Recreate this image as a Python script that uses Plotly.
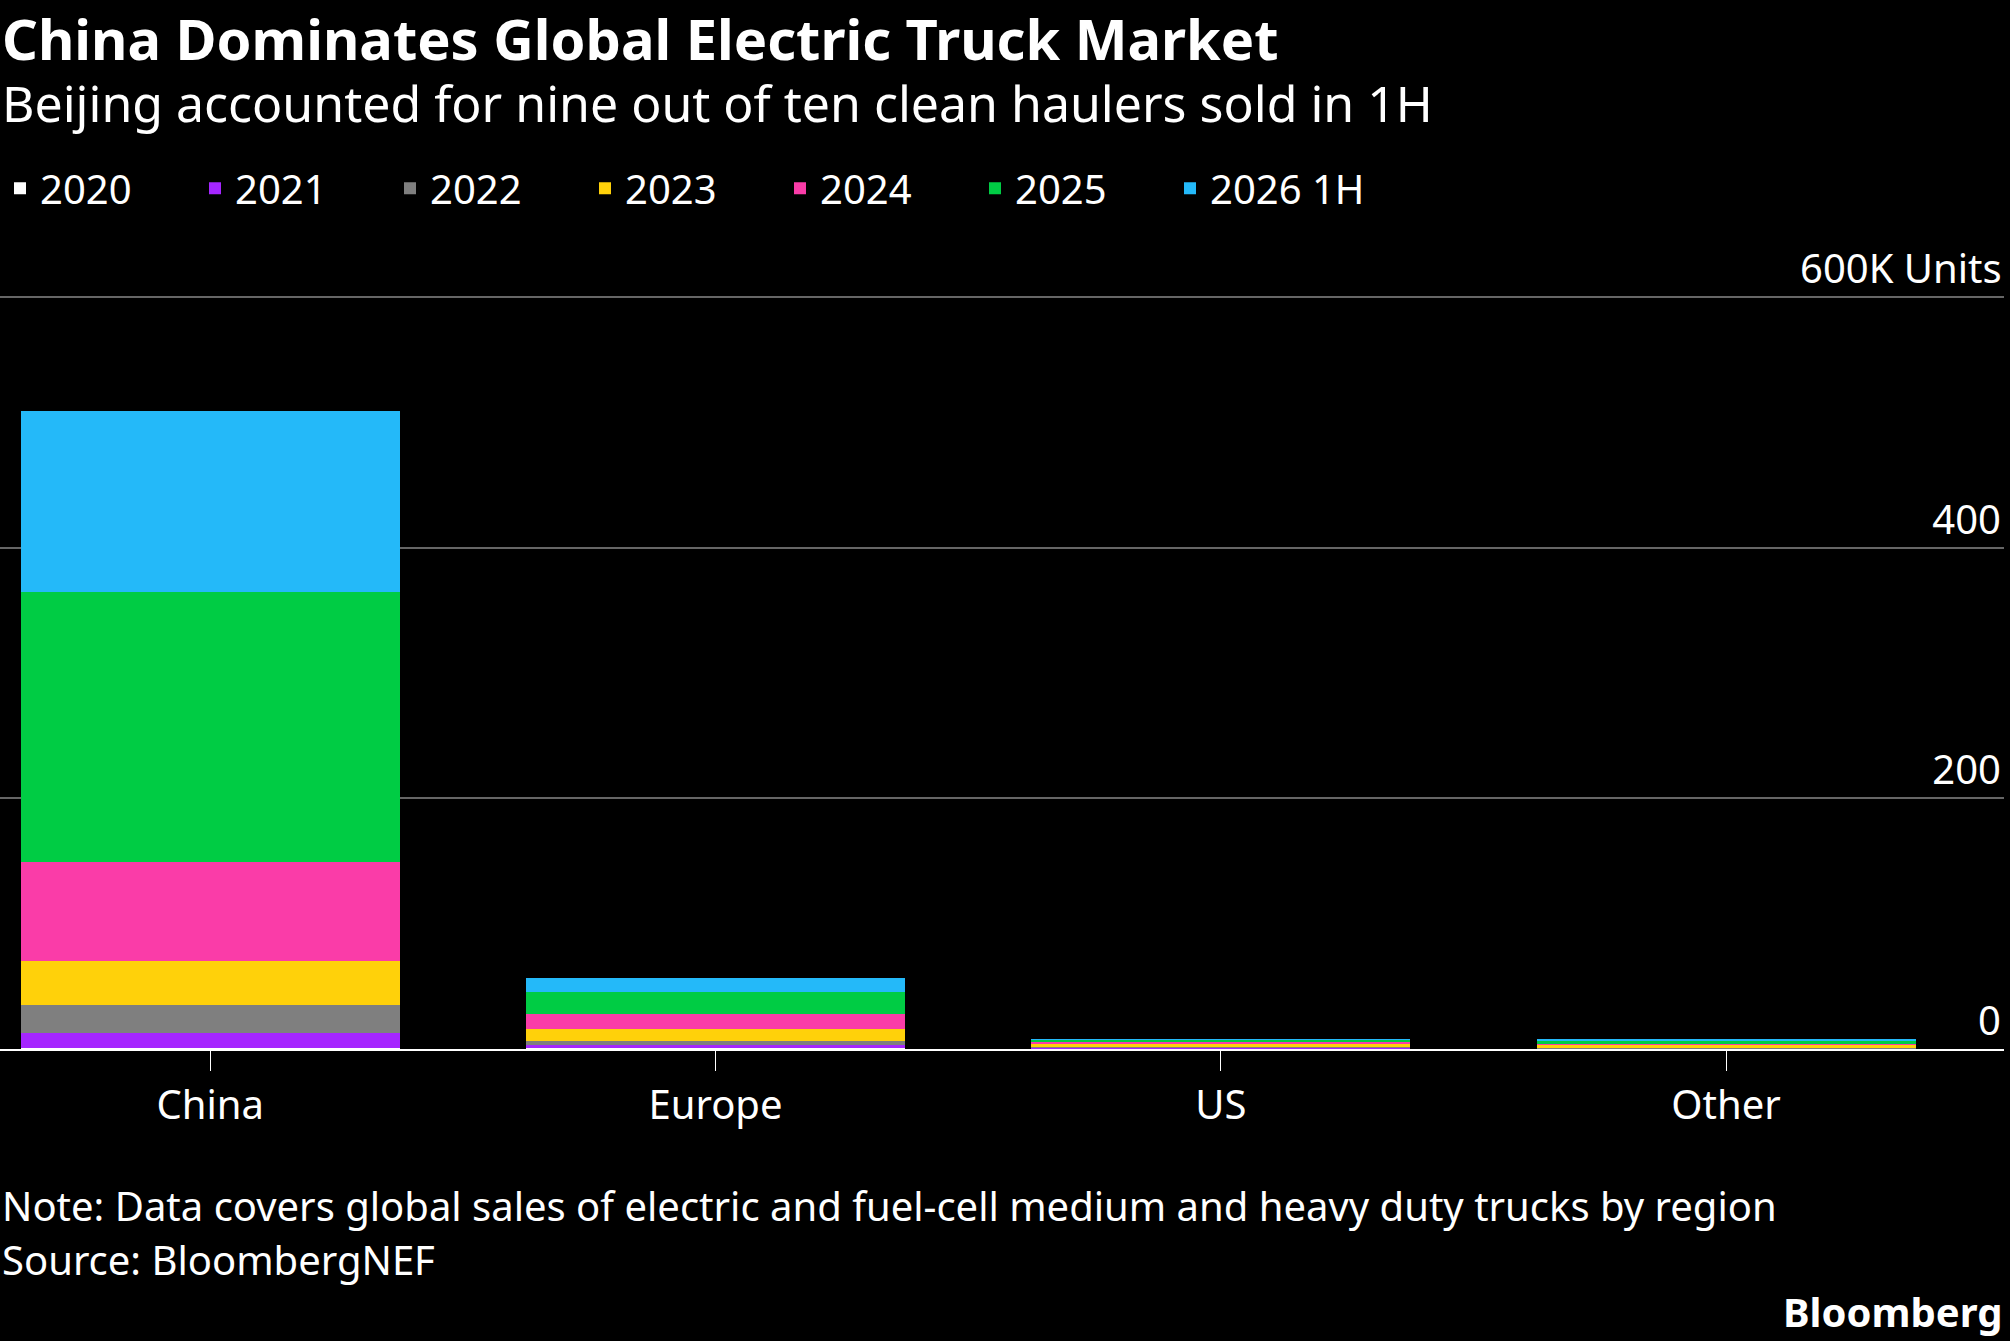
import plotly.graph_objects as go

regions = ["China", "Europe", "US", "Other"]
years = ["2020", "2021", "2022", "2023", "2024", "2025", "2026 1H"]
colors = ["#ffffff", "#a526ff", "#7f7f7f", "#ffd10a", "#fa3ca8", "#00cc44", "#24b9f9"]

sales_2020 = [1, 1.5, 0.3, 0.3]
sales_2021 = [12, 1.5, 0.5, 0.4]
sales_2022 = [22, 3.5, 0.8, 0.5]
sales_2023 = [35, 9.5, 2, 2]
sales_2024 = [79, 12, 1.8, 1.5]
sales_2025 = [216, 17.5, 1.8, 1.3]
sales_2026 = [144, 11, 0.5, 1.8]
series = [sales_2020, sales_2021, sales_2022, sales_2023, sales_2024, sales_2025, sales_2026]

tick_vals = [0, 200, 400]
tick_text = ["0", "200", "400"]
top_tick = 600
top_label = "600K Units"

font = "Noto Sans"
fig = go.Figure()
for name, vals, c in zip(years, series, colors):
    fig.add_trace(go.Bar(x=regions, y=vals, name=name, marker_color=c, marker_line_width=0,
                         width=0.75))

fig.update_layout(
    barmode="stack",
    width=2010, height=1341,
    paper_bgcolor="black", plot_bgcolor="black",
    font=dict(family=font, color="white", size=36),
    margin=dict(l=0, r=6, t=296, b=292, autoexpand=False),
    legend=dict(orientation="h", x=0, y=1.143, xanchor="left", yanchor="middle",
                font=dict(size=40), traceorder="normal", itemwidth=30,
                entrywidth=150, entrywidthmode="pixels"),
    xaxis=dict(showgrid=False, ticks="outside", ticklen=20, tickcolor="white",
               range=[-0.416, 3.55],
               tickfont=dict(size=40), showline=True, linecolor="white", linewidth=2),
    yaxis=dict(side="right", range=[0, 601], tickvals=tick_vals + [top_tick],
               ticktext=tick_text + [""],
               ticklabelposition="inside top", gridcolor="#666666", gridwidth=2,
               zeroline=False, tickfont=dict(size=40), showline=False),
)

fig.add_annotation(text=top_label, x=1, xref="paper", y=top_tick, yref="y",
                   xanchor="right", yanchor="bottom", showarrow=False,
                   font=dict(size=40, color="white", family=font))

anns = [
    ("<b>China Dominates Global Electric Truck Market</b>", 0, 1.396, 56, "left", "top"),
    ("Beijing accounted for nine out of ten clean haulers sold in 1H", 0, 1.256, 50, "left", "middle"),
    ("Note: Data covers global sales of electric and fuel-cell medium and heavy duty trucks by region", 0, -0.208, 40, "left", "middle"),
    ("Source: BloombergNEF", 0, -0.280, 40, "left", "middle"),
    ("<b>Bloomberg</b>", 1, -0.349, 40, "right", "middle"),
]
for text, x, y, size, xa, ya in anns:
    fig.add_annotation(text=text, x=x, y=y, xref="paper", yref="paper",
                       xanchor=xa, yanchor=ya, showarrow=False,
                       font=dict(size=size, color="white", family=font))

fig.write_html("out.html", config={"displayModeBar": False})

# drop the default page margin so the chart sits flush in the window
with open("out.html", encoding="utf-8") as f:
    html = f.read()
html = html.replace("<body>", '<body style="margin:0;background:black;">', 1)
with open("out.html", "w", encoding="utf-8") as f:
    f.write(html)
